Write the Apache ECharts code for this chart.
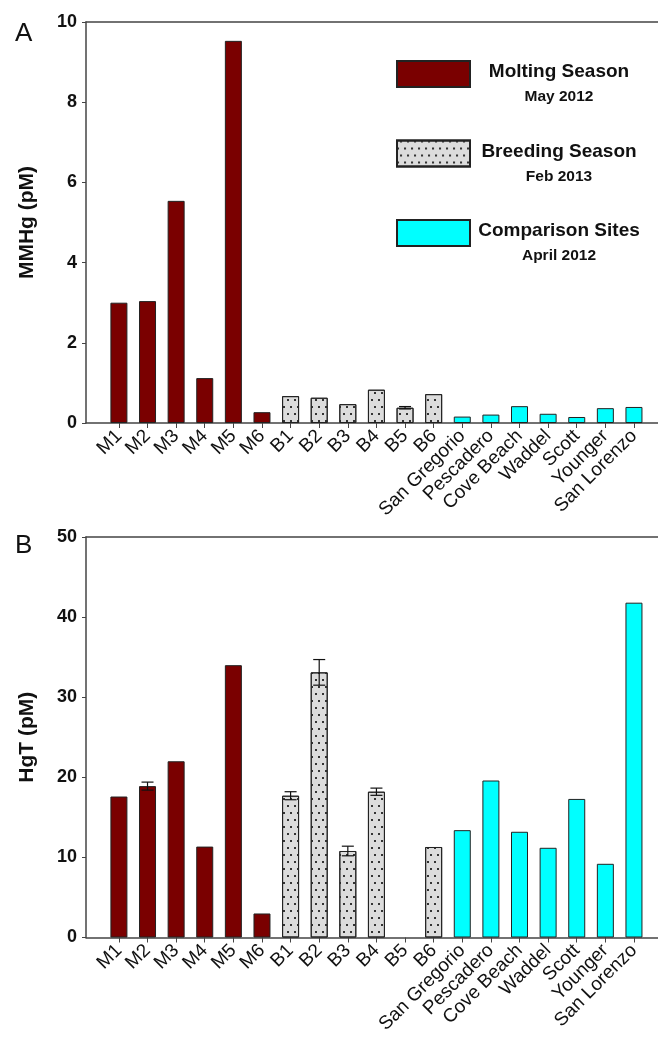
<!DOCTYPE html>
<html>
<head>
<meta charset="utf-8">
<script src="https://cdn.jsdelivr.net/npm/echarts@6/dist/echarts.min.js"></script>
<style>
  html, body { margin: 0; padding: 0; background: #fff; }
  #chart { width: 658px; height: 1039px; }
</style>
</head>
<body>
<div id="chart"></div>
<script>
// sites on the x axis
const sites = ['M1', 'M2', 'M3', 'M4', 'M5', 'M6', 'B1', 'B2', 'B3', 'B4', 'B5', 'B6',
  'San Gregorio', 'Pescadero', 'Cove Beach', 'Waddel', 'Scott', 'Younger', 'San Lorenzo']
// index ranges of each sampling group
const moltingIdx = [0, 1, 2, 3, 4, 5]
const breedingIdx = [6, 7, 8, 9, 10, 11]
const comparisonIdx = [12, 13, 14, 15, 16, 17, 18]
const groupNames = ['Molting Season', 'Breeding Season', 'Comparison Sites']
const groupDates = ['May 2012', 'Feb 2013', 'April 2012']

// panel A: MMHg (pM)
const mmhg = [3.0, 3.04, 5.54, 1.12, 9.53, 0.27, 0.67, 0.63, 0.47, 0.83, 0.38, 0.72,
  0.16, 0.21, 0.42, 0.23, 0.15, 0.37, 0.40]
const mmhgErr = [0, 0, 0, 0, 0, 0, 0, 0, 0, 0, 0.03, 0, 0, 0, 0, 0, 0, 0, 0]
const mmhgTicks = [0, 2, 4, 6, 8, 10]

// panel B: HgT (pM), B5 not measured
const hgt = [17.6, 18.9, 22.0, 11.35, 34.0, 3.0, 17.7, 33.1, 10.8, 18.2, null, 11.3,
  13.4, 19.6, 13.2, 11.2, 17.3, 9.2, 41.8]
const hgtErr = [0, 0.5, 0, 0, 0, 0, 0.5, 1.6, 0.6, 0.45, 0, 0, 0, 0, 0, 0, 0, 0, 0]
const hgtTicks = [0, 10, 20, 30, 40, 50]

const font = 'Liberation Sans, Arial, sans-serif'
const edge = '#222'
const axisColor = '#444'
const colors = ['#7a0000', '#dcdcdc', '#00ffff']
const dots = {
  symbol: 'rect',
  symbolSize: 1,
  color: '#333',
  dashArrayX: [[1.4, 4.6], [0, 3, 1.4, 1.6]],
  dashArrayY: [1.4, 4.6]
}
const siteIdx = sites.map((s, i) => i)

function xAxes(grid) {
  return [
    {
      type: 'value', gridIndex: grid, min: -1.15, max: 18.84,
      axisLine: { show: true, onZero: false, lineStyle: { color: axisColor, width: 1.5 } },
      splitLine: { show: false },
      axisTick: { show: true, customValues: siteIdx, length: 5, lineStyle: { color: axisColor } },
      axisLabel: {
        customValues: siteIdx, rotate: 45, margin: 10,
        fontFamily: font, fontSize: 19, color: '#111',
        formatter: v => sites[Math.round(v)]
      }
    },
    {
      type: 'value', gridIndex: grid, position: 'top', min: -1.15, max: 18.84,
      axisLine: { show: true, onZero: false, lineStyle: { color: axisColor, width: 1.5 } },
      splitLine: { show: false }, axisTick: { show: false }, axisLabel: { show: false }
    }
  ]
}

function yAxis(grid, name, max, interval) {
  return {
    type: 'value', gridIndex: grid, min: 0, max: max, interval: interval,
    name: name, nameLocation: 'middle', nameGap: 48,
    nameTextStyle: { fontFamily: font, fontSize: 21, fontWeight: 'bold', color: '#111' },
    axisLine: { show: true, onZero: false, lineStyle: { color: axisColor, width: 1.5 } },
    axisTick: { show: true, length: 4, lineStyle: { color: axisColor } },
    splitLine: { show: false },
    axisLabel: { fontFamily: font, fontSize: 18, fontWeight: 'bold', color: '#111', margin: 9 }
  }
}

function barSeries(grid, vals) {
  const groups = [moltingIdx, breedingIdx, comparisonIdx]
  return groups.map((idx, g) => ({
    name: groupNames[g],
    type: 'bar',
    xAxisIndex: grid * 2,
    yAxisIndex: grid,
    barWidth: 17,
    barGap: '-100%',
    data: idx.filter(i => vals[i] !== null).map(i => [i, vals[i]]),
    itemStyle: Object.assign(
      { color: colors[g], borderColor: edge, borderWidth: 1 },
      g === 1 ? { decal: dots } : {}
    ),
    emphasis: { disabled: true }
  }))
}

function errSeries(grid, vals, errs) {
  const data = []
  errs.forEach((e, i) => {
    if (e > 0 && vals[i] !== null) data.push([i, vals[i] - e, vals[i] + e])
  })
  return {
    type: 'custom',
    xAxisIndex: grid * 2,
    yAxisIndex: grid,
    z: 10,
    data: data,
    renderItem: (params, api) => {
      const x = api.value(0)
      const lo = api.coord([x, api.value(1)])
      const hi = api.coord([x, api.value(2)])
      const w = 6
      const st = { stroke: '#111', lineWidth: 1.2 }
      return {
        type: 'group',
        children: [
          { type: 'line', shape: { x1: lo[0], y1: lo[1], x2: hi[0], y2: hi[1] }, style: st },
          { type: 'line', shape: { x1: hi[0] - w, y1: hi[1], x2: hi[0] + w, y2: hi[1] }, style: st },
          { type: 'line', shape: { x1: lo[0] - w, y1: lo[1], x2: lo[0] + w, y2: lo[1] }, style: st }
        ]
      }
    }
  }
}

const chart = echarts.init(document.getElementById('chart'))
chart.setOption({
  animation: false,
  backgroundColor: '#fff',
  title: [
    { text: 'A', left: 10, top: 16, textStyle: { fontFamily: font, fontSize: 26, fontWeight: 'normal', color: '#111' } },
    { text: 'B', left: 10, top: 528, textStyle: { fontFamily: font, fontSize: 26, fontWeight: 'normal', color: '#111' } }
  ],
  legend: {
    orient: 'vertical',
    left: 391,
    top: 55,
    icon: 'rect',
    itemWidth: 73,
    itemHeight: 26,
    itemGap: 34.5,
    selectedMode: false,
    data: groupNames,
    formatter: name => '{t|' + name + '}\n{s|' + groupDates[groupNames.indexOf(name)] + '}',
    textStyle: {
      fontFamily: font,
      color: '#111',
      padding: [24, 0, 0, 0],
      rich: {
        t: { fontFamily: font, fontSize: 19, fontWeight: 'bold', width: 168, align: 'center', lineHeight: 22, color: '#111' },
        s: { fontFamily: font, fontSize: 15.5, fontWeight: 'bold', width: 168, align: 'center', lineHeight: 28, color: '#111' }
      }
    }
  },
  grid: [
    { left: 86, right: 0, top: 22, height: 401 },
    { left: 86, right: 0, top: 537, height: 400.5 }
  ],
  xAxis: xAxes(0).concat(xAxes(1)),
  yAxis: [
    yAxis(0, 'MMHg (pM)', mmhgTicks[mmhgTicks.length - 1], mmhgTicks[1] - mmhgTicks[0]),
    yAxis(1, 'HgT (pM)', hgtTicks[hgtTicks.length - 1], hgtTicks[1] - hgtTicks[0])
  ],
  series: barSeries(0, mmhg)
    .concat([errSeries(0, mmhg, mmhgErr)])
    .concat(barSeries(1, hgt))
    .concat([errSeries(1, hgt, hgtErr)])
})
</script>
</body>
</html>
